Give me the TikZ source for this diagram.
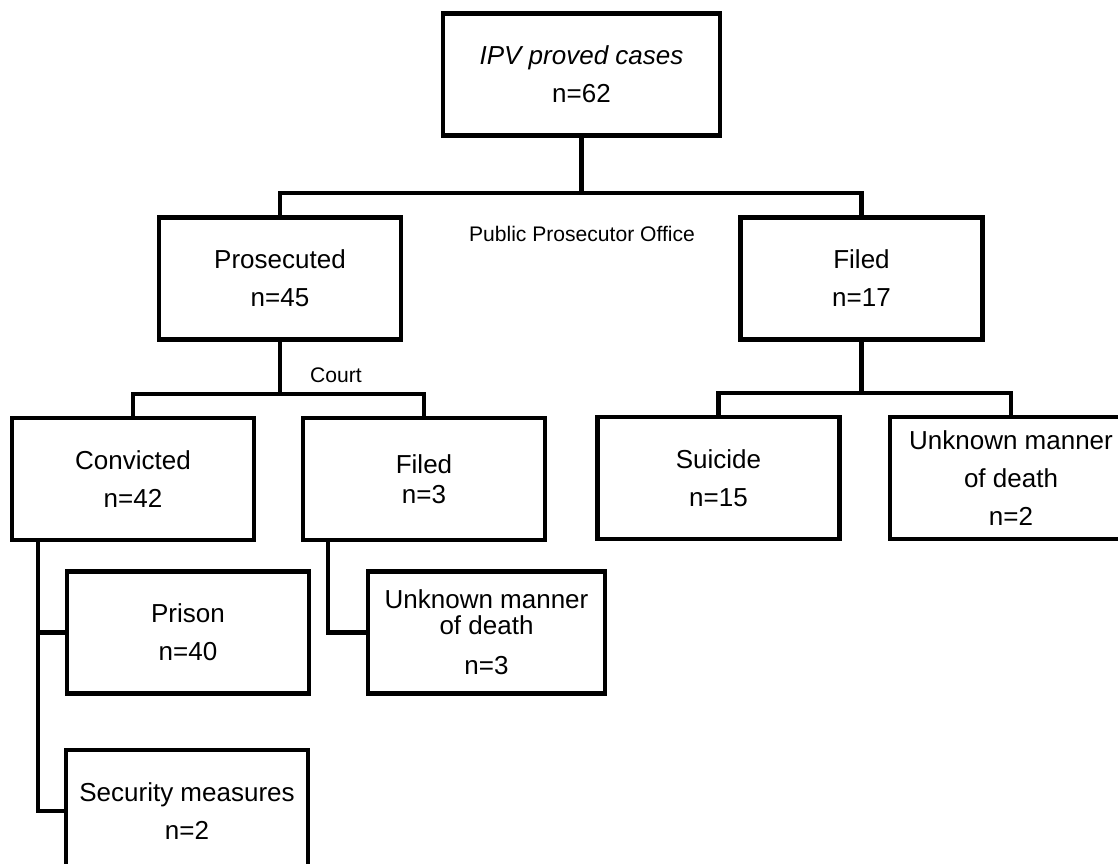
\documentclass[tikz,border=0pt]{standalone}
\usepackage{fontspec}
\setmainfont{Liberation Sans}
\usepackage{tikz}

\begin{document}
\begin{tikzpicture}[x=0.02cm, y=0.02cm]
\tikzstyle{every node}+=[inner sep=0pt]
\tikzstyle{box}=[draw=black, line width=2.5pt, rectangle, minimum width=4.84cm, minimum height=2.44cm, align=center, font=\fontsize{14.8}{21.6}\selectfont]
\tikzstyle{branch}=[draw=black, line width=2.5pt]
\tikzstyle{tag}=[font=\fontsize{12}{14}\selectfont]
\useasboundingbox (0,0) rectangle (1118,-863);
\node [box, minimum width=5.54cm] (ipv) at (581.5,-74.5) {\textit{IPV proved cases}\\n=62};
\node [box] (pros) at (280,-278.5) {Prosecuted\\n=45};
\node [box] (filedA) at (861.5,-278.5) {Filed\\n=17};
\node [box] (conv) at (133,-479) {Convicted\\n=42};
\node [box] (filedB) at (424,-479) {Filed\\[-4.6pt]n=3};
\node [box] (suic) at (718.5,-478) {Suicide\\n=15};
\node [box] (unkA) at (1011,-478) {Unknown manner\\of death\\n=2};
\node [box] (prison) at (188,-632.5) {Prison\\n=40};
\node [box, minimum width=4.74cm] (unkB) at (486.5,-632.5) {Unknown manner\\[-6.9pt]of death\\[1.1pt]n=3};
\node [box] (secu) at (187,-811) {Security measures\\n=2};
\node [tag] (ppo) at (582,-234) {Public Prosecutor Office};
\node [tag] (court) at (336,-375) {Court};
\coordinate (busA) at (581.5,-193);
\coordinate (busB) at (280,-394);
\coordinate (busC) at (861.5,-393);
\coordinate (convT) at (38,-540);
\coordinate (filedT) at (328,-540);
\draw [branch] (ipv.south) -- (busA);
\draw [branch] (pros.north) |- (busA) -| (filedA.north);
\draw [branch] (pros.south) -- (busB);
\draw [branch] (conv.north) |- (busB) -| (filedB.north);
\draw [branch] (filedA.south) -- (busC);
\draw [branch] (suic.north) |- (busC) -| (unkA.north);
\draw [branch] (convT) |- (prison.west);
\draw [branch] (convT) |- (secu.west);
\draw [branch] (filedT) |- (unkB.west);
\end{tikzpicture}
\end{document}
